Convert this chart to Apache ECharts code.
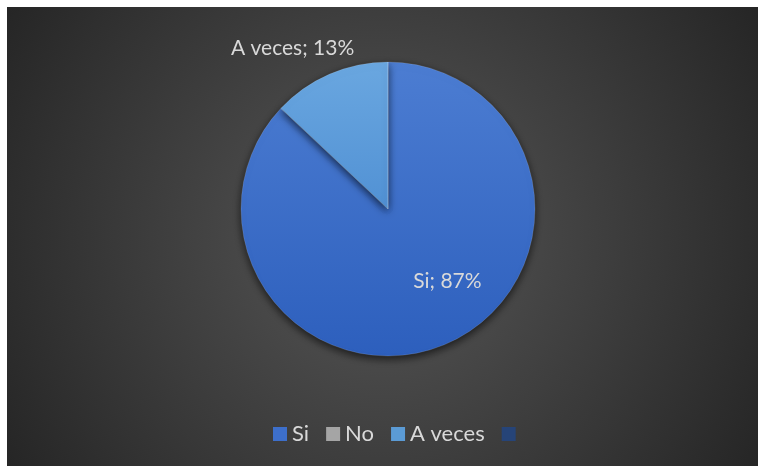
<!DOCTYPE html>
<html>
<head>
<meta charset="utf-8">
<script src="https://cdn.jsdelivr.net/npm/echarts@6/dist/echarts.min.js"></script>
<style>
html,body{margin:0;padding:0;background:#ffffff;}
#chart{width:760px;height:468px;}
</style>
</head>
<body>
<div id="chart"></div>
<script>
const categories = ['Si', 'No', 'A veces', ' '];
const values = [87, 0, 13, 0];

const chart = echarts.init(document.getElementById('chart'), null, {renderer: 'canvas'});

const sliceColors = [
  new echarts.graphic.LinearGradient(0, 0, 0, 1, [{offset: 0, color: '#4c7dd2'}, {offset: 1, color: '#2d5fbd'}]),
  '#a5a5a5',
  new echarts.graphic.LinearGradient(0, 0, 0, 1, [{offset: 0, color: '#6aa7e0'}, {offset: 1, color: '#5191d4'}]),
  '#264478'
];
const legendColors = ['#3d6fcb', '#a5a5a5', '#5b9bd5', '#264478'];
const labelOffsets = [[29, 2], [0, 0], [-65, -91], [0, 0]];

const data = categories.map((c, i) => ({
  name: c,
  value: values[i],
  itemStyle: {color: sliceColors[i]},
  label: {
    show: values[i] > 0,
    position: 'inside',
    offset: labelOffsets[i]
  }
}));

chart.setOption({
  backgroundColor: 'transparent',
  animation: false,
  graphic: [{
    type: 'rect',
    z: -10,
    shape: {x: 7, y: 7, width: 751, height: 459},
    style: {
      fill: new echarts.graphic.RadialGradient(0.5, 0.5, 0.95, [
        {offset: 0, color: '#575757'},
        {offset: 1, color: '#262626'}
      ])
    }
  }],
  legend: {
    bottom: 18,
    left: 268,
    itemWidth: 14,
    itemHeight: 14,
    itemGap: 17,
    icon: 'rect',
    data: categories.map((c, i) => ({name: c, itemStyle: {color: legendColors[i], borderWidth: 0, shadowBlur: 0}})),
    textStyle: {color: '#d9d9d9', fontSize: 22, fontFamily: 'Lato'}
  },
  series: [{
    type: 'pie',
    center: [388, 209],
    radius: 147,
    startAngle: 90,
    clockwise: true,
    avoidLabelOverlap: false,
    labelLine: {show: false},
    label: {
      color: '#d9d9d9',
      fontSize: 21,
      fontFamily: 'Lato',
      formatter: p => p.name + '; ' + p.value + '%'
    },
    itemStyle: {
      borderColor: 'rgba(255,255,255,0.25)',
      borderWidth: 0.5,
      shadowBlur: 8,
      shadowOffsetX: 0,
      shadowOffsetY: 3,
      shadowColor: 'rgba(0,0,0,0.65)'
    },
    emphasis: {disabled: true},
    data: data
  }]
});
</script>
</body>
</html>
